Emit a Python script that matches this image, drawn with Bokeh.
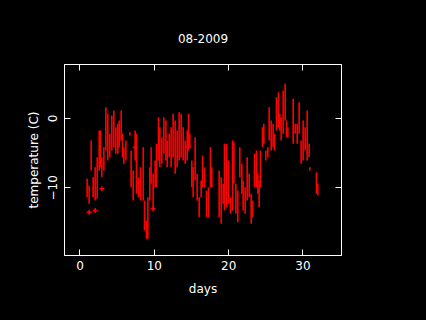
from bokeh.plotting import figure
from bokeh.models import Range1d, FixedTicker, LinearAxis, GlobalInlineStyleSheet
from bokeh.embed import file_html
from bokeh.resources import INLINE

# Daily temperature streaks: day, low, high (deg C)
day = [0.96, 1.23, 1.50, 1.77, 2.04, 2.31, 2.58, 2.76, 2.94, 3.21,
       3.48, 3.74, 4.01, 4.28, 4.55, 4.82, 5.09, 5.27, 5.54, 5.72,
       5.90, 6.17, 6.71, 6.88, 7.15, 7.42, 7.60, 7.87, 8.14, 8.50,
       8.68, 8.94, 9.13, 9.39, 9.57, 9.84, 10.11, 10.29, 10.56, 10.74,
       11.01, 11.28, 11.55, 11.73, 12.00, 12.26, 12.53, 12.80, 13.07, 13.34,
       13.61, 13.88, 14.15, 14.42, 14.60, 14.77, 15.04, 15.22, 15.49, 15.76,
       16.03, 16.30, 16.48, 16.75, 17.02, 17.29, 17.55, 17.73, 18.72, 18.99,
       19.26, 19.44, 19.71, 19.98, 20.25, 20.52, 20.70, 20.97, 21.23, 21.50,
       21.77, 21.95, 22.22, 22.49, 22.76, 23.03, 23.21, 23.48, 23.74, 23.92,
       24.10, 24.28, 24.55, 24.73, 25.00, 25.27, 25.45, 25.72, 25.98, 26.16,
       26.43, 26.70, 26.88, 27.06, 27.33, 27.60, 27.78, 27.96, 28.68, 28.95,
       29.22, 29.48, 29.75, 30.02, 30.29, 30.56, 30.83, 30.92, 31.81, 31.99]
t_low = [-11.35, -12.31, -7.50, -11.35, -11.83, -11.59, -7.50, -7.02, -8.46, -7.50,
         -4.62, -6.06, -5.58, -4.62, -4.13, -5.10, -5.10, -4.13, -3.17, -5.58,
         -6.54, -6.06, -2.45, -9.90, -11.83, -6.06, -10.87, -11.35, -11.83, -11.83,
         -16.15, -17.36, -17.36, -11.83, -9.42, -13.27, -9.90, -9.90, -6.06, -7.02,
         -6.54, -5.10, -6.06, -7.02, -5.58, -7.02, -5.58, -7.98, -7.02, -6.06,
         -5.58, -6.06, -6.54, -6.06, -4.62, -4.13, -9.90, -11.35, -8.94, -11.83,
         -14.23, -11.35, -9.90, -9.90, -14.23, -14.23, -9.90, -9.90, -14.23, -15.19,
         -12.31, -13.27, -12.79, -12.31, -13.75, -13.27, -9.42, -13.75, -14.95, -8.46,
         -10.87, -13.27, -13.75, -11.83, -11.35, -15.19, -14.23, -9.90, -9.90, -10.87,
         -12.79, -9.90, -4.13, -3.65, -6.06, -5.58, -3.17, -4.62, -4.13, -4.62,
         -1.73, -1.25, -1.73, -3.17, -2.21, -0.29, -2.69, -2.69, -3.65, -2.21,
         -3.65, -2.21, -6.54, -6.06, -4.62, -6.06, -5.58, -7.50, -10.87, -11.11]
t_high = [-8.70, -9.66, -3.17, -8.46, -7.02, -5.58, -1.73, -1.73, -5.58, -4.13,
          1.63, 0.67, -2.21, 0.43, 1.15, -1.25, -0.77, -0.29, 1.15, -2.21,
          -4.13, -3.17, -1.97, -4.62, -7.50, -1.73, -2.21, -8.46, -7.02, -4.13,
          -11.83, -14.70, -11.35, -7.02, -4.13, -7.98, -6.06, -3.65, 0.19, -1.25,
          -2.69, 0.19, -0.29, -3.17, -2.21, -1.25, 0.67, -0.29, -1.73, 0.91,
          0.67, -1.25, -3.17, -1.73, 0.67, -2.21, -6.06, -7.02, -2.69, -7.98,
          -11.35, -8.94, -5.34, -7.02, -10.38, -9.90, -4.13, -7.02, -7.50, -8.46,
          -9.42, -3.65, -3.65, -6.06, -11.35, -3.17, -3.41, -9.42, -10.38, -4.13,
          -6.54, -8.94, -9.90, -5.58, -7.98, -10.87, -11.83, -5.10, -4.62, -7.98,
          -8.94, -4.62, -1.25, -0.77, -4.62, -4.13, 1.63, -0.29, -0.77, -2.21,
          3.08, 3.80, 0.67, 0.19, 4.04, 5.00, -0.29, -1.25, 2.84, -0.77,
          -0.77, 2.36, -3.17, -0.29, -1.25, 1.15, -3.65, -7.02, -7.74, -9.42]

# Isolated readings
iso_day = [1.23, 2.04, 2.94, 9.84, 7.42, 14.60]
iso_temp = [-13.51, -13.27, -10.14, -13.00, -4.20, -4.10]

x_ticks = [0, 10, 20, 30]
y_ticks = [-10, 0]
y_tick_labels = {-10: "\u221210", 0: "0"}

FONT = "DejaVu Sans"
FS = "12px"

p = figure(width=410, height=304, output_backend="svg", toolbar_location=None,
           x_range=Range1d(-2.085, 35.18), y_range=Range1d(-19.76, 7.79),
           min_border_left=64, min_border_right=69, min_border_top=64,
           min_border_bottom=49, title="08-2009")
p.stylesheets = [GlobalInlineStyleSheet(css="html, body { background: #000000; }")]
p.background_fill_color = "black"
p.border_fill_color = "black"
p.outline_line_color = "white"
p.outline_line_width = 1
p.xgrid.visible = False
p.ygrid.visible = False

p.title.text_color = "white"
p.title.text_font = FONT
p.title.text_font_size = FS
p.title.text_font_style = "normal"
p.title.align = "center"
p.title.standoff = 43

def style_axis(ax, show_labels=True):
    ax.axis_line_color = "white"
    ax.major_tick_line_color = "white"
    ax.major_tick_in = 6
    ax.major_tick_out = 0
    ax.minor_tick_line_color = None
    ax.major_label_text_color = "white"
    ax.major_label_text_font = FONT
    ax.major_label_text_font_size = FS
    ax.axis_label_text_color = "white"
    ax.axis_label_text_font = FONT
    ax.axis_label_text_font_size = FS
    ax.axis_label_text_font_style = "normal"
    if not show_labels:
        ax.major_label_text_color = None
        ax.major_label_standoff = 0

style_axis(p.xaxis[0])
p.xaxis[0].ticker = FixedTicker(ticks=x_ticks)
p.xaxis[0].axis_label = "days"
p.xaxis[0].major_label_standoff = 5
p.xaxis[0].axis_label_standoff = 9

style_axis(p.yaxis[0])
p.yaxis[0].ticker = FixedTicker(ticks=y_ticks)
p.yaxis[0].major_label_overrides = y_tick_labels
p.yaxis[0].major_label_orientation = "vertical"
p.yaxis[0].axis_label = "temperature (C)"
p.yaxis[0].major_label_standoff = 7
p.yaxis[0].axis_label_standoff = 5

right = LinearAxis(ticker=FixedTicker(ticks=y_ticks))
style_axis(right, show_labels=False)
p.add_layout(right, "right")

top = LinearAxis(ticker=FixedTicker(ticks=x_ticks))
style_axis(top, show_labels=False)
p.add_layout(top, "above")

p.segment(x0=day, y0=t_low, x1=day, y1=t_high, line_color="#ff0000", line_width=1.6)
p.scatter(iso_day, iso_temp, marker="cross", size=5, line_color="#ff0000", line_width=1.5)

open("out.html", "w").write(file_html(p, INLINE))
